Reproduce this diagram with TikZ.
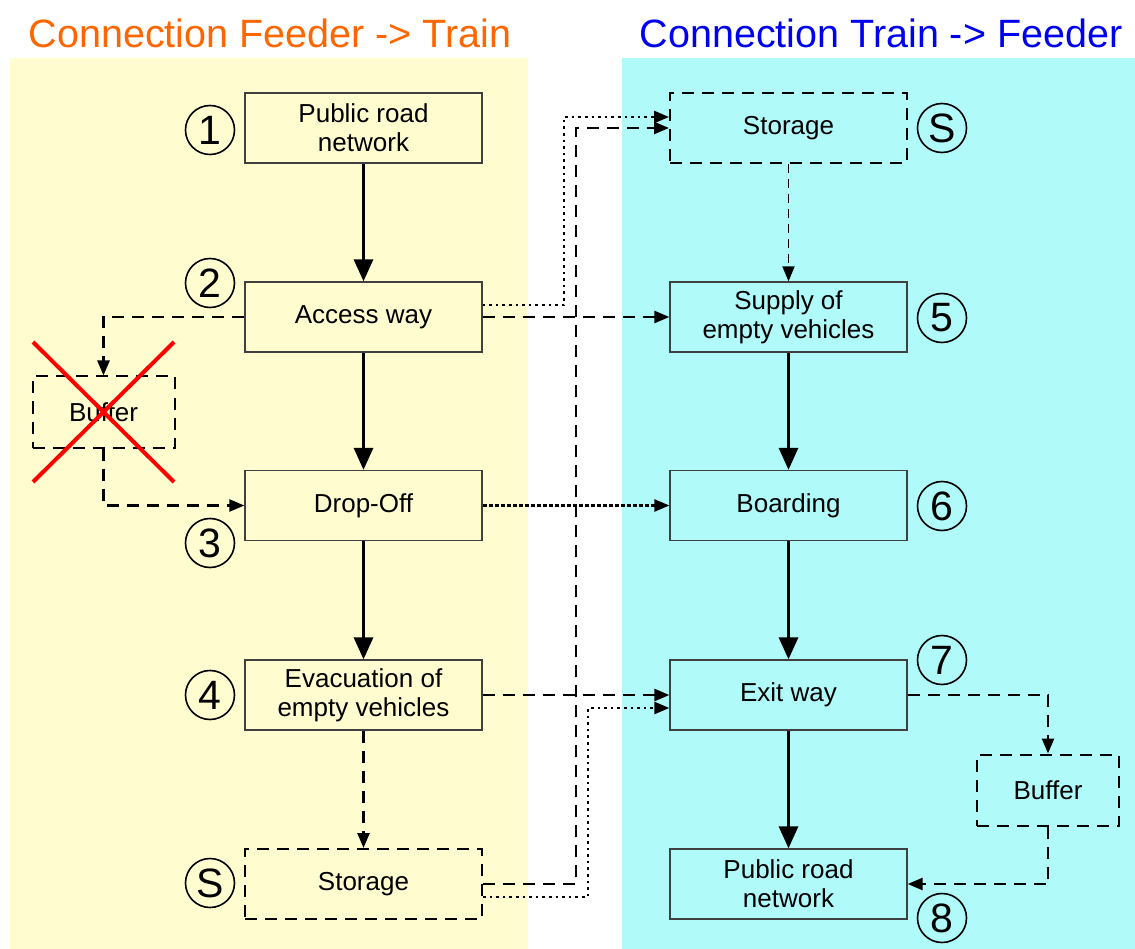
\documentclass[tikz,border=0pt]{standalone}
\usepackage{fontspec}
\setmainfont{Liberation Sans}
\usetikzlibrary{arrows.meta}
\definecolor{bgY}{RGB}{255,253,208}
\definecolor{bgC}{RGB}{176,250,250}
\definecolor{ttlO}{RGB}{255,102,0}
\definecolor{ttlB}{RGB}{0,0,240}
\begin{document}
\begin{tikzpicture}[x=1pt,y=-1pt,
 box/.style={draw=black!75,line width=1.3pt,minimum width=237pt,minimum height=70pt,inner sep=0pt,align=center,font=\fontsize{26}{29}\selectfont},
 dbox/.style={box,draw=black,line width=2pt,dash pattern=on 12pt off 8pt},
 bufbox/.style={dbox,minimum width=142pt,minimum height=71pt},
 num/.style={circle,draw,line width=1.6pt,minimum size=49pt,inner sep=0pt,font=\fontsize{41}{41}\selectfont},
 ttl/.style={font=\fontsize{39.5}{42}\selectfont},
 flow/.style={line width=3.2pt,-{Triangle[length=22pt,width=19pt]}},
 dsh/.style={line width=2.5pt,dash pattern=on 12pt off 8pt,-{Triangle[length=15pt,width=12pt]}},
 dtt/.style={line width=2.6pt,dash pattern=on 2.6pt off 4pt,-{Triangle[length=15pt,width=12pt]}},
 ddense/.style={line width=2.4pt,dash pattern=on 4pt off 2pt,-{Triangle[length=15pt,width=12pt]}},
 cross/.style={red,line width=4pt}]
\useasboundingbox (0,0) rectangle (1135,949);
\fill[bgY] (10,58) rectangle (528,949);
\fill[bgC] (622,58) rectangle (1135,949);
\node[ttl,text=ttlO] (t1) at (270,33) {Connection Feeder -> Train};
\node[ttl,text=ttlB] (t2) at (881,33) {Connection Train -> Feeder};
% left column
\node[box] (pr1) at (363.5,128) {Public road\\network};
\node[box] (aw) at (363.5,317) {Access way};
\node[box] (do) at (363.5,505.5) {Drop-Off};
\node[box] (ev) at (363.5,695) {Evacuation of\\empty vehicles};
\node[dbox] (st1) at (363.5,884) {Storage};
\node[bufbox] (bf1) at (103.5,412) {Buffer};
% right column
\node[dbox] (st2) at (788.5,128) {Storage};
\node[box] (sp) at (788.5,317) {Supply of\\empty vehicles};
\node[box] (bd) at (788.5,505.5) {Boarding};
\node[box] (ew) at (788.5,695) {Exit way};
\node[box] (pr2) at (788.5,884) {Public road\\network};
\node[bufbox] (bf2) at (1048,790) {Buffer};
% numbers
\node[num] (n1) at (210,130) {1};
\node[num] (n2) at (210,283) {2};
\node[num] (n3) at (210,543) {3};
\node[num] (n4) at (210,695) {4};
\node[num] (ns1) at (210,883) {S};
\node[num] (ns2) at (942,128) {S};
\node[num] (n5) at (942,318) {5};
\node[num] (n6) at (942,506) {6};
\node[num] (n7) at (942,660) {7};
\node[num] (n8) at (942,918) {8};
% route columns
\coordinate (ct) at (564,0);
\coordinate (cd) at (576,0);
\coordinate (cb) at (588,0);
\coordinate (awT) at ([yshift=12pt]aw.east);
\coordinate (stT) at ([yshift=11pt]st2.west);
\coordinate (st1B) at ([yshift=-13pt]st1.east);
\coordinate (ewB) at ([yshift=-13pt]ew.west);
% solid flows
\draw[flow] (pr1) -- (aw);
\draw[flow] (aw) -- (do);
\draw[flow] (do) -- (ev);
\draw[flow] (sp) -- (bd);
\draw[flow] (bd) -- (ew);
\draw[flow] (ew) -- (pr2);
% dashed
\draw[dsh] (ev) -- (st1);
\draw[dsh,line width=1.8pt,dash pattern=on 9pt off 6pt] (st2) -- (sp);
\draw[dsh] (aw.west) -| (bf1.north);
\draw[dsh] (bf1.south) |- (do.west);
\draw[dsh] (aw.east) -- (sp.west);
\draw[dsh] (ev.east) -- (ew.west);
\draw[dsh] (st1.east) -| (cd |- st2.west) -- (st2.west);
\draw[dsh] (ew.east) -| (bf2.north);
\draw[dsh] (bf2.south) |- (pr2.east);
% dotted
\draw[dtt] (awT) -| (ct |- stT) -- (stT);
\draw[dtt] (st1B) -| (cb |- ewB) -- (ewB);
\draw[ddense] (do.east) -- (bd.west);
% cross
\draw[cross] (33,342) -- (174,482);
\draw[cross] (174,342) -- (33,482);
\end{tikzpicture}
\end{document}
